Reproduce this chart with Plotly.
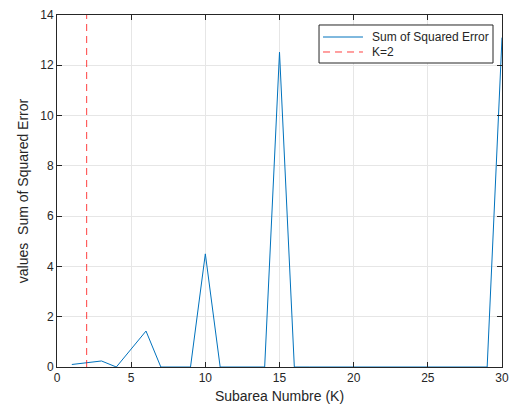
import plotly.graph_objects as go

k_values = list(range(1, 31))
sse = [0.10, 0.17, 0.24, 0.0, 0.70, 1.43, 0.0, 0.0, 0.0, 4.50,
       0.0, 0.0, 0.0, 0.0, 12.52, 0.0, 0.0, 0.0, 0.0, 0.0,
       0.0, 0.0, 0.0, 0.0, 0.0, 0.0, 0.0, 0.0, 0.0, 13.1]
k_opt = 2
y_range = [0, 14]
legend_labels = ["Sum of Squared Error", "K=2"]

axis_col = "#262626"
blue = "#0072BD"
red = "rgba(255,0,0,0.75)"
font_fam = "Liberation Sans, Arial"

fig = go.Figure()
fig.add_trace(go.Scatter(x=k_values, y=sse, mode="lines", name=legend_labels[0],
                         line=dict(color=blue, width=1), showlegend=False))
fig.add_trace(go.Scatter(x=[k_opt, k_opt], y=y_range, mode="lines", name=legend_labels[1],
                         line=dict(color=red, width=1, dash="7px,5px"), showlegend=False))

common = dict(showline=True, linecolor=axis_col, linewidth=1, mirror="ticks",
              ticks="inside", ticklen=5, tickcolor=axis_col, automargin=False,
              showgrid=True, gridcolor="#E6E6E6", gridwidth=1, zeroline=False,
              tickfont=dict(family=font_fam, size=12, color=axis_col))
fig.update_xaxes(range=[0, 30], dtick=5,
                 title=dict(text="Subarea Numbre (K)", font=dict(family=font_fam, size=14, color=axis_col), standoff=6),
                 **common)
fig.update_yaxes(range=y_range, dtick=2,
                 title=dict(text="values\u00a0\u00a0Sum of Squared Error", font=dict(family=font_fam, size=14, color=axis_col), standoff=8),
                 **common)

# legend box drawn manually (MATLAB style)
x0, x1, y0, y1 = 0.5888, 0.9798, 0.8636, 0.9716
fig.add_shape(type="rect", xref="paper", yref="paper", x0=x0, x1=x1, y0=y0, y1=y1,
              line=dict(color=axis_col, width=1), fillcolor="white", layer="above")
rows = [0.9375, 0.8949]
styles = [dict(color=blue, width=1), dict(color=red, width=1, dash="7px,5px")]
for lab, ry, st in zip(legend_labels, rows, styles):
    fig.add_shape(type="line", xref="paper", yref="paper", x0=0.5978, x1=0.6876, y0=ry, y1=ry,
                  line=st, layer="above")
    fig.add_annotation(xref="paper", yref="paper", x=0.7034, y=ry, text=lab, showarrow=False,
                       xanchor="left", yanchor="middle",
                       font=dict(family=font_fam, size=12, color=axis_col))

fig.update_layout(width=510, height=411, margin=dict(l=57, r=8, t=15, b=44),
                  plot_bgcolor="white", paper_bgcolor="white", showlegend=False)
fig.write_html("out.html")
